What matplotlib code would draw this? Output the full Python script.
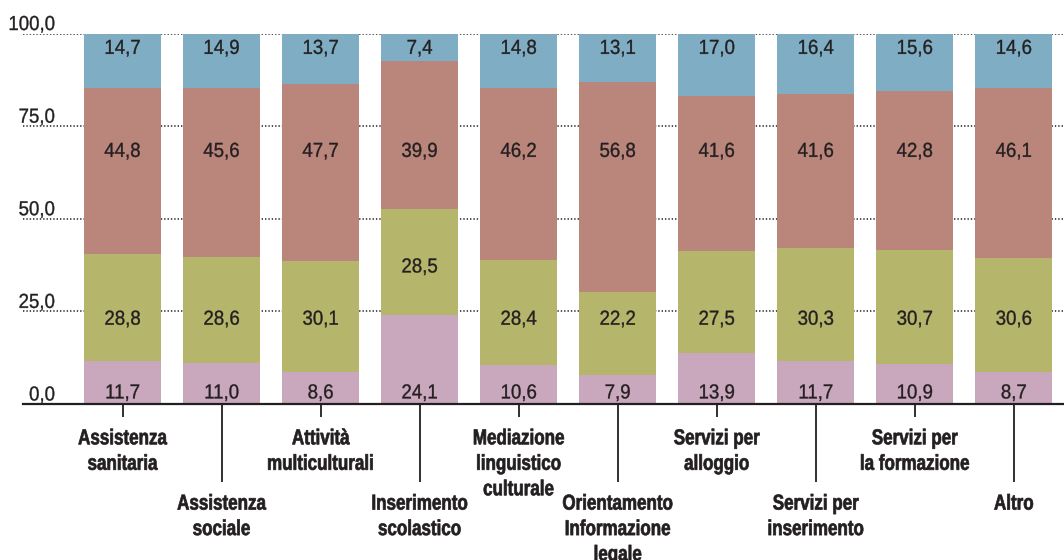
import numpy as np
import matplotlib
matplotlib.use("Agg")
import matplotlib.pyplot as plt
from matplotlib.patheffects import AbstractPathEffect
from matplotlib.transforms import Affine2D
from matplotlib.ticker import FixedLocator, FixedFormatter

plt.rcParams['font.family'] = ['Liberation Sans', 'DejaVu Sans']

categories = [
    "Assistenza\nsanitaria",
    "Assistenza\nsociale",
    "Attività\nmulticulturali",
    "Inserimento\nscolastico",
    "Mediazione\nlinguistico\nculturale",
    "Orientamento\nInformazione\nlegale",
    "Servizi per\nalloggio",
    "Servizi per\ninserimento",
    "Servizi per\nla formazione",
    "Altro",
]

# stacked shares, bottom to top
pink = [11.7, 11.0, 8.6, 24.1, 10.6, 7.9, 13.9, 11.7, 10.9, 8.7]
olive = [28.8, 28.6, 30.1, 28.5, 28.4, 22.2, 27.5, 30.3, 30.7, 30.6]
red = [44.8, 45.6, 47.7, 39.9, 46.2, 56.8, 41.6, 41.6, 42.8, 46.1]
blue = [14.7, 14.9, 13.7, 7.4, 14.8, 13.1, 17.0, 16.4, 15.6, 14.6]

y_ticks = [0, 25, 50, 75, 100]
y_tick_labels = ["0,0", "25,0", "50,0", "75,0", "100,0"]

colors = {
    "pink": "#C9A8BD",
    "olive": "#B6B56C",
    "red": "#BA867C",
    "blue": "#7FADC4",
}
ink = "#231F20"


class Squeeze(AbstractPathEffect):
    """Draw text glyphs narrowed horizontally, optionally thickened."""

    def __init__(self, sx, anchor="center", stroke=0.0):
        super().__init__()
        self.sx = sx
        self.anchor = anchor
        self.stroke = stroke

    def draw_path(self, renderer, gc, tpath, affine, rgbFace=None):
        ext = tpath.get_extents(affine)
        if self.anchor == "right":
            x0 = ext.x1
        elif self.anchor == "left":
            x0 = ext.x0
        else:
            x0 = 0.5 * (ext.x0 + ext.x1)
        squeezed = affine + Affine2D().translate(-x0, 0).scale(self.sx, 1).translate(x0, 0)
        if self.stroke > 0 and rgbFace is not None:
            gc0 = renderer.new_gc()
            gc0.copy_properties(gc)
            gc0.set_foreground(rgbFace)
            gc0.set_linewidth(self.stroke)
            gc0.set_joinstyle("round")
            renderer.draw_path(gc0, tpath, squeezed, rgbFace)
            gc0.restore()
        else:
            renderer.draw_path(gc, tpath, squeezed, rgbFace)


def fmt(v):
    return f"{v:.1f}".replace(".", ",")


VAL_SIZE = 14.6
CAT_SIZE = 15.5

fig = plt.figure(figsize=(10.64, 5.60), dpi=100)
ax = fig.add_axes([23 / 1064, (560 - 404) / 560, 1041 / 1064, 370.5 / 560])

x = np.arange(len(categories))
width = 0.777

series = [("pink", pink), ("olive", olive), ("red", red), ("blue", blue)]
bottom = np.zeros(len(categories))
for name, vals in series:
    vals = np.asarray(vals)
    ax.bar(x, vals, width, bottom=bottom, color=colors[name], zorder=2,
           linewidth=0)
    bottom = bottom + vals

# value labels placed in fixed rows
pink_a = np.asarray(pink)
olive_a = np.asarray(olive)
label_rows = {
    "pink": np.full(len(x), 1.5),
    "olive": np.where(pink_a > 20, pink_a + 0.4 * olive_a, 21.4),
    "red": np.full(len(x), 66.7),
    "blue": np.full(len(x), 94.5),
}
for name, vals in series:
    for xi, v, yy in zip(x, vals, label_rows[name]):
        ax.text(xi, yy, fmt(v), ha="center", va="baseline",
                fontsize=VAL_SIZE, color=ink, zorder=4,
                path_effects=[Squeeze(0.92, stroke=0.25)])

ax.set_xlim(-1.005, 9.507)
ax.set_ylim(0, 100)

# dotted horizontal grid
for yv in y_ticks[1:]:
    ax.axhline(yv, color=ink, linewidth=1.1, linestyle=(0, (0.9, 1.3)),
               zorder=1)

# y labels sit just above their grid lines
ax.set_yticks([])
for yv, lab in zip(y_ticks, y_tick_labels):
    ax.annotate(lab, xy=(32 / 1041, yv), xycoords=ax.get_yaxis_transform(),
                xytext=(0, 2.5), textcoords="offset points",
                ha="right", va="baseline", fontsize=VAL_SIZE,
                color=ink, annotation_clip=False,
                path_effects=[Squeeze(0.92, "right", stroke=0.25)])

for s in ["top", "right", "left"]:
    ax.spines[s].set_visible(False)
ax.spines["bottom"].set_color(ink)
ax.spines["bottom"].set_linewidth(1.6)
ax.spines["bottom"].set_zorder(3)

# alternating short / long ticks with staggered labels
even = x[0::2]
odd = x[1::2]
ax.xaxis.set_major_locator(FixedLocator(even))
ax.xaxis.set_major_formatter(FixedFormatter([categories[i] for i in even]))
ax.xaxis.set_minor_locator(FixedLocator(odd))
ax.xaxis.set_minor_formatter(FixedFormatter([categories[i] for i in odd]))
ax.tick_params(axis="x", which="major", length=9.5, width=1.3, color=ink,
               pad=8, labelcolor=ink, labelsize=CAT_SIZE)
ax.tick_params(axis="x", which="minor", length=56, width=1.3, color=ink,
               pad=8.5, labelcolor=ink, labelsize=CAT_SIZE)
for lab in ax.get_xticklabels(which="both"):
    lab.set_fontweight("bold")
    lab.set_linespacing(1.28)
    lab.set_multialignment("center")
    lab.set_path_effects([Squeeze(0.79, stroke=0.5)])

fig.savefig("out.png", dpi=100)
